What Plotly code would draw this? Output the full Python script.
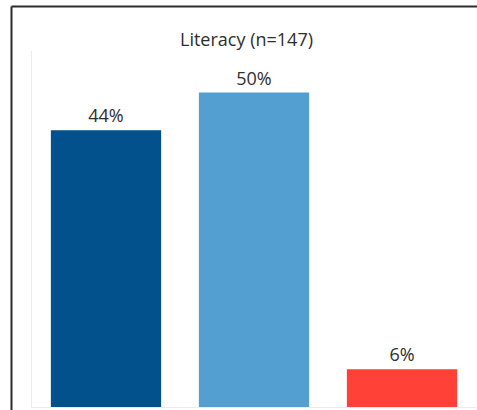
import plotly.graph_objects as go

# Literacy outcome shares (percent of respondents)
categories = ["A", "B", "C"]
values = [44, 50, 6]
labels = ["44%", "50%", "6%"]
colors = ["#02508c", "#539fd1", "#ff4138"]

FONT = "Open Sans, Liberation Sans, sans-serif"

fig = go.Figure(
    go.Bar(
        x=categories,
        y=values,
        marker=dict(color=colors, line=dict(width=0)),
        text=labels,
        textposition="outside",
        textfont=dict(family=FONT, size=18, color="#2e2e2e"),
        cliponaxis=False,
        width=0.745,
    )
)

fig.update_layout(
    width=477,
    height=410,
    margin=dict(l=32, r=1, t=51, b=3),
    paper_bgcolor="white",
    plot_bgcolor="white",
    showlegend=False,
    uniformtext=dict(minsize=18, mode="show"),
    title=dict(
        text="Literacy (n=147)",
        x=246.5 / 477,
        xanchor="center",
        xref="container",
        y=1 - 40 / 410,
        yref="container",
        yanchor="middle",
        font=dict(family=FONT, size=18, color="#2e2e2e"),
    ),
    xaxis=dict(
        showticklabels=False,
        showgrid=False,
        zeroline=False,
        showline=True,
        linecolor="#ebebeb",
        linewidth=1,
        ticks="",
    ),
    yaxis=dict(
        range=[0, 56.6],
        showticklabels=False,
        showgrid=False,
        zeroline=False,
        showline=True,
        linecolor="#ebebeb",
        linewidth=1,
        ticks="",
    ),
    shapes=[
        # outer frame: left and top edges
        dict(type="line", xref="paper", yref="paper",
             x0=-20.5 / 444, x1=-20.5 / 444, y0=(407 - 6.5) / 356, y1=-0.1,
             line=dict(color="#2b2b2b", width=2)),
        dict(type="line", xref="paper", yref="paper",
             x0=-20.5 / 444, x1=445 / 444, y0=(407 - 6.5) / 356, y1=(407 - 6.5) / 356,
             line=dict(color="#2b2b2b", width=2)),
    ],
)

fig.write_html("out.html", config={"displayModeBar": False})
